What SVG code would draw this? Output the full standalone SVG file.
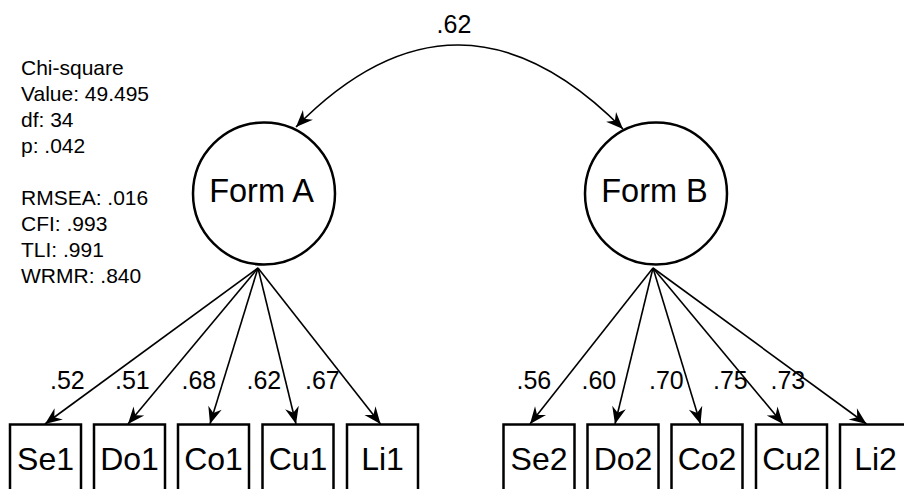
<svg xmlns="http://www.w3.org/2000/svg" width="904" height="489" viewBox="0 0 904 489">
<style>
text{font-family:"Liberation Sans",Arial,sans-serif;fill:#000}
.stat{font-size:21px}
.lat{font-size:32.5px;text-anchor:middle}
.obs{font-size:32px;text-anchor:middle}
.lbl{font-size:25px}
.node{fill:#fff;stroke:#000;stroke-width:2.5}
.edge{fill:none;stroke:#000;stroke-width:1.6;marker-end:url(#ah)}
</style>
<defs>
<marker id="ah" markerUnits="userSpaceOnUse" markerWidth="20" markerHeight="18" viewBox="-18 -9 19 18" refX="0" refY="0" orient="auto-start-reverse">
<path d="M0,0 L-17,-7 L-11.5,0 L-17,7 Z" fill="#000"/>
</marker>
</defs>
<rect width="904" height="489" fill="#fff"/>
<g id="fit-stats" class="stat">
<text x="21" y="74.5">Chi-square</text>
<text x="21" y="100.5">Value: 49.495</text>
<text x="21" y="126.5">df: 34</text>
<text x="21" y="152.5">p: .042</text>
<text x="21" y="204.5">RMSEA: .016</text>
<text x="21" y="230.5">CFI: .993</text>
<text x="21" y="256.5">TLI: .991</text>
<text x="21" y="282.5">WRMR: .840</text>
</g>
<g id="connectors">
<path class="edge" style="marker-start:url(#ah)" d="M296,127 Q458,-38 623,129"/>
<text class="lbl" x="454" y="33" text-anchor="middle">.62</text>
<path class="edge" d="M258,268 L45,424"/>
<path class="edge" d="M258,268 L128,424"/>
<path class="edge" d="M258,268 L210,424"/>
<path class="edge" d="M258,268 L296,424"/>
<path class="edge" d="M258,268 L380.5,424"/>
<path class="edge" d="M653,268 L530,424"/>
<path class="edge" d="M653,268 L615,424"/>
<path class="edge" d="M653,268 L700.5,424"/>
<path class="edge" d="M653,268 L783,424"/>
<path class="edge" d="M653,268 L866.5,424"/>
<text class="lbl" x="50" y="388.5">.52</text>
<text class="lbl" x="115" y="388.5">.51</text>
<text class="lbl" x="181.5" y="388.5">.68</text>
<text class="lbl" x="246.5" y="388.5">.62</text>
<text class="lbl" x="305" y="388.5">.67</text>
<text class="lbl" x="516.5" y="388.5">.56</text>
<text class="lbl" x="581.5" y="388.5">.60</text>
<text class="lbl" x="649" y="388.5">.70</text>
<text class="lbl" x="713" y="388.5">.75</text>
<text class="lbl" x="770.5" y="388.5">.73</text>
</g>
<g id="FormA"><circle class="node" cx="264" cy="193.5" r="71"/><text class="lat" x="261.5" y="201.5">Form A</text></g>
<g id="FormB"><circle class="node" cx="656" cy="193.5" r="71"/><text class="lat" x="654.5" y="201.5">Form B</text></g>
<g id="Se1"><rect class="node" x="10" y="424.5" width="71" height="80"/><text class="obs" x="45.5" y="470">Se1</text></g>
<g id="Do1"><rect class="node" x="94" y="424.5" width="71" height="80"/><text class="obs" x="129.5" y="470">Do1</text></g>
<g id="Co1"><rect class="node" x="178" y="424.5" width="71" height="80"/><text class="obs" x="213.5" y="470">Co1</text></g>
<g id="Cu1"><rect class="node" x="262.5" y="424.5" width="71" height="80"/><text class="obs" x="298" y="470">Cu1</text></g>
<g id="Li1"><rect class="node" x="347" y="424.5" width="71" height="80"/><text class="obs" x="382.5" y="470">Li1</text></g>
<g id="Se2"><rect class="node" x="503.5" y="424.5" width="71" height="80"/><text class="obs" x="539" y="470">Se2</text></g>
<g id="Do2"><rect class="node" x="587.5" y="424.5" width="71" height="80"/><text class="obs" x="623" y="470">Do2</text></g>
<g id="Co2"><rect class="node" x="671.5" y="424.5" width="71" height="80"/><text class="obs" x="707" y="470">Co2</text></g>
<g id="Cu2"><rect class="node" x="756" y="424.5" width="71" height="80"/><text class="obs" x="791.5" y="470">Cu2</text></g>
<g id="Li2"><rect class="node" x="840" y="424.5" width="71" height="80"/><text class="obs" x="875.5" y="470">Li2</text></g>
</svg>
